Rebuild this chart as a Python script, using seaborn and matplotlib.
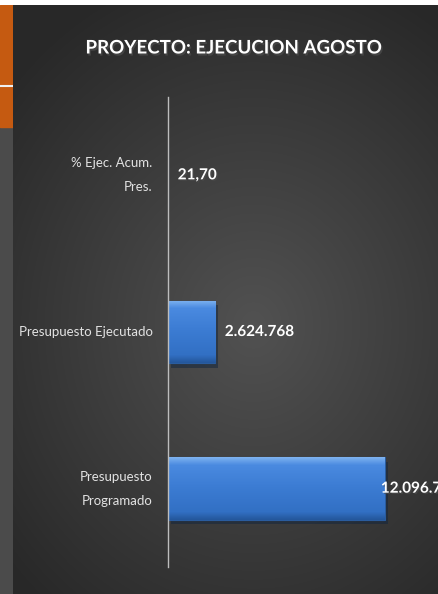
import numpy as np
import pandas as pd
import matplotlib
matplotlib.use("Agg")
import matplotlib.pyplot as plt
import matplotlib.patheffects as pe
from matplotlib.colors import LinearSegmentedColormap
import seaborn as sns

# ---------------------------
# Data
# ---------------------------
categorias = ["% Ejec. Acum.\nPres.", "Presupuesto Ejecutado", "Presupuesto\nProgramado"]
valores = [21.70, 2624768, 12096758]
etiquetas = ["21,70", "2.624.768", "12.096.758"]
titulo = "PROYECTO: EJECUCION AGOSTO"

df = pd.DataFrame({"categoria": categorias, "valor": valores})

sns.set_style("dark")
plt.rcParams["font.family"] = ["Lato", "DejaVu Sans"]

fig = plt.figure(figsize=(4.39, 5.94), dpi=100)
fig.patch.set_facecolor("white")

# ---------------------------
# Background: side strip + radial gradient
# ---------------------------
W, H = 439, 594
strip = fig.add_axes([0, 0, 13 / W, 1 - 5 / H])
strip.set_axis_off()
strip.axhspan(0, 1 - 122 / 589, color="#4b4b4b")
strip.axhspan(1 - 122 / 589, 1, color="#c55a11")
strip.axhline(1 - 81 / 589, color="#f0f0f0", lw=1.5)
strip.set_ylim(0, 1)
strip.set_xlim(0, 1)

bg = fig.add_axes([13 / W, 0, 1 - 13 / W, 1 - 5 / H])
bg.set_axis_off()
yy, xx = np.mgrid[0:589, 0:426]
d = np.sqrt(((xx - 240) / 300.0) ** 2 + ((yy - 320) / 340.0) ** 2)
shade = np.clip(0.32 - 0.15 * d, 0.16, 0.33)
bg.imshow(np.dstack([shade] * 3), aspect="auto", extent=(0, 1, 0, 1))

# ---------------------------
# Chart
# ---------------------------
ax = fig.add_axes([168 / W, 27 / H, 1 - 168 / W, (567 - 97) / H])
ax.patch.set_alpha(0)
sns.barplot(data=df, y="categoria", x="valor", orient="h", color="#3a7ad0",
            width=0.4, edgecolor="#2a5c9e", linewidth=0.8, ax=ax, saturation=1)

# bevel look on the bars
bevel = LinearSegmentedColormap.from_list(
    "bevel", [(0, "#7db2f0"), (0.12, "#4a8ae0"), (0.5, "#3b7bd2"), (0.88, "#3270c4"), (1, "#24579c")])
grad = np.linspace(0, 1, 64).reshape(-1, 1)
for bar in ax.patches:
    bar.set_path_effects([pe.SimplePatchShadow(offset=(2, -3), alpha=0.5), pe.Normal()])
    x0, y0 = bar.get_x(), bar.get_y()
    im = ax.imshow(grad, cmap=bevel, aspect="auto", zorder=bar.get_zorder() + 0.1,
                   extent=(x0, x0 + bar.get_width(), y0 + bar.get_height(), y0))
    im.set_clip_path(bar)
ax.set_xlim(0, 12096758 * (W - 168) / 217)
ax.set_ylim(2.5, -0.5)

ax.set_xlabel("")
ax.set_ylabel("")
ax.set_xticks([])
ax.tick_params(axis="y", length=0, pad=11, labelsize=9.5, labelcolor="#e2e2e2")
for s in ["top", "right", "bottom"]:
    ax.spines[s].set_visible(False)
ax.spines["left"].set_color("#bdbdbd")
ax.spines["left"].set_linewidth(1)
ax.spines["left"].set_zorder(5)
for lbl in ax.get_yticklabels():
    lbl.set_linespacing(2.2)
    lbl.set_verticalalignment("center")

offsets = [7, 7, -3]
for i, (v, t) in enumerate(zip(valores, etiquetas)):
    ax.annotate(t, xy=(v, i), xytext=(offsets[i], 0), textcoords="offset points",
                va="center", ha="left", color="white", fontsize=11, fontweight="bold",
                annotation_clip=False, zorder=6,
                path_effects=[pe.withSimplePatchShadow(offset=(1, -1), alpha=0.6)])

fig.text(234 / W, 1 - 48 / H, titulo, ha="center", va="center", color="white",
         fontsize=13.5, fontweight="bold",
         path_effects=[pe.withSimplePatchShadow(offset=(1, -1.5), alpha=0.7)])

fig.savefig("out.png", dpi=100)
